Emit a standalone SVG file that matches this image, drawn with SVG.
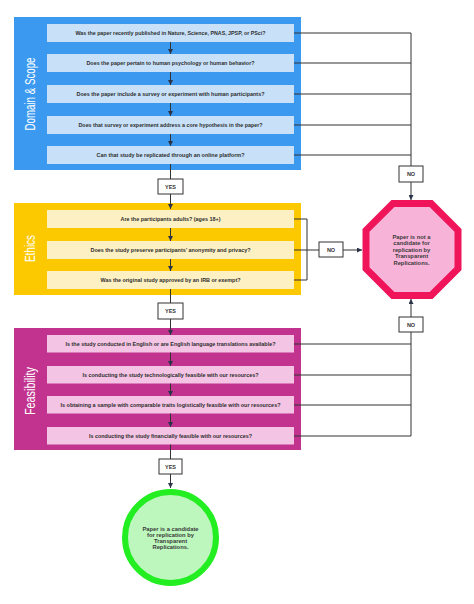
<svg xmlns="http://www.w3.org/2000/svg" width="474" height="604" viewBox="0 0 474 604">
<style>
.q{font-family:"Liberation Sans",Arial,sans-serif;font-weight:bold;font-size:5.6px;fill:#2e2e2e;text-anchor:middle}
.sec{font-family:"Liberation Sans",Arial,sans-serif;font-size:15px;fill:#ffffff;text-anchor:middle}
.lbl{font-family:"Liberation Sans",Arial,sans-serif;font-weight:bold;font-size:5.5px;fill:#333;text-anchor:middle}
.end{font-family:"Liberation Sans",Arial,sans-serif;font-weight:bold;font-size:5.8px;fill:#3a3a3a;text-anchor:middle}
.tag{fill:#ffffff;stroke:#333;stroke-width:1}
.ln{fill:none;stroke:#333;stroke-width:1}
.arr{fill:none;stroke:#333;stroke-width:1;marker-end:url(#ah)}
.bb{fill:#c8e1f8}
.yb{fill:#fdf0c2}
.mb{fill:#f3c4e3}
</style>
<defs>
<marker id="ah" markerUnits="userSpaceOnUse" markerWidth="5" markerHeight="5" viewBox="0 0 5 5" refX="5" refY="2.5" orient="auto">
<path d="M0,0 L5,2.5 L0,5 Z" fill="#2a3347"/>
</marker>
</defs>

<g id="panel-domain">
<rect x="14" y="17" width="287" height="153" fill="#3b9af0"/>
<text class="sec" transform="translate(35,94) rotate(-90)" textLength="73" lengthAdjust="spacingAndGlyphs">Domain &amp; Scope</text>
</g>
<g id="q1"><rect class="bb" x="47" y="24" width="247" height="18"/><text class="q" x="170.5" y="35" textLength="190" lengthAdjust="spacingAndGlyphs">Was the paper recently published in Nature, Science, PNAS, JPSP, or PSci?</text></g>
<g id="q2"><rect class="bb" x="47" y="54" width="247" height="18"/><text class="q" x="170.5" y="65" textLength="168" lengthAdjust="spacingAndGlyphs">Does the paper pertain to human psychology or human behavior?</text></g>
<g id="q3"><rect class="bb" x="47" y="85" width="247" height="18"/><text class="q" x="170.5" y="96" textLength="188" lengthAdjust="spacingAndGlyphs">Does the paper include a survey or experiment with human participants?</text></g>
<g id="q4"><rect class="bb" x="47" y="116" width="247" height="18"/><text class="q" x="170.5" y="127" textLength="184" lengthAdjust="spacingAndGlyphs">Does that survey or experiment address a core hypothesis in the paper?</text></g>
<g id="q5"><rect class="bb" x="47" y="146" width="247" height="18"/><text class="q" x="170.5" y="157" textLength="148" lengthAdjust="spacingAndGlyphs">Can that study be replicated through an online platform?</text></g>

<g id="panel-ethics">
<rect x="14" y="203" width="287" height="92" fill="#fcc800"/>
<text class="sec" transform="translate(35,248.5) rotate(-90)" textLength="27" lengthAdjust="spacingAndGlyphs">Ethics</text>
</g>
<g id="q6"><rect class="yb" x="47" y="210" width="247" height="18"/><text class="q" x="170.5" y="221" textLength="100" lengthAdjust="spacingAndGlyphs">Are the participants adults? (ages 18+)</text></g>
<g id="q7"><rect class="yb" x="47" y="241" width="247" height="18"/><text class="q" x="170.5" y="252" textLength="160" lengthAdjust="spacingAndGlyphs">Does the study preserve participants’ anonymity and privacy?</text></g>
<g id="q8"><rect class="yb" x="47" y="271" width="247" height="18"/><text class="q" x="170.5" y="282" textLength="140" lengthAdjust="spacingAndGlyphs">Was the original study approved by an IRB or exempt?</text></g>

<g id="panel-feasibility">
<rect x="14" y="328" width="287" height="122" fill="#c2338f"/>
<text class="sec" transform="translate(35,391) rotate(-90)" textLength="48" lengthAdjust="spacingAndGlyphs">Feasibility</text>
</g>
<g id="q9"><rect class="mb" x="47" y="335" width="247" height="17.5"/><text class="q" x="170.5" y="345.8" textLength="210" lengthAdjust="spacingAndGlyphs">Is the study conducted in English or are English language translations available?</text></g>
<g id="q10"><rect class="mb" x="47" y="366" width="247" height="17.5"/><text class="q" x="170.5" y="376.8" textLength="176" lengthAdjust="spacingAndGlyphs">Is conducting the study technologically feasible with our resources?</text></g>
<g id="q11"><rect class="mb" x="47" y="396" width="247" height="17.5"/><text class="q" x="170.5" y="406.8" textLength="220" lengthAdjust="spacingAndGlyphs">Is obtaining a sample with comparable traits logistically feasible with our resources?</text></g>
<g id="q12"><rect class="mb" x="47" y="427" width="247" height="17.5"/><text class="q" x="170.5" y="437.8" textLength="163" lengthAdjust="spacingAndGlyphs">Is conducting the study financially feasible with our resources?</text></g>

<g id="connectors">
<line class="arr" x1="170.5" y1="42" x2="170.5" y2="54"/>
<line class="arr" x1="170.5" y1="72" x2="170.5" y2="85"/>
<line class="arr" x1="170.5" y1="103" x2="170.5" y2="116"/>
<line class="arr" x1="170.5" y1="134" x2="170.5" y2="146"/>
<line class="ln" x1="170.5" y1="164" x2="170.5" y2="179"/>
<line class="arr" x1="170.5" y1="194" x2="170.5" y2="209"/>
<line class="arr" x1="170.5" y1="228" x2="170.5" y2="241"/>
<line class="arr" x1="170.5" y1="259" x2="170.5" y2="271"/>
<line class="ln" x1="170.5" y1="289" x2="170.5" y2="303"/>
<line class="arr" x1="170.5" y1="319" x2="170.5" y2="335"/>
<line class="arr" x1="170.5" y1="352.5" x2="170.5" y2="366"/>
<line class="arr" x1="170.5" y1="383.5" x2="170.5" y2="396"/>
<line class="arr" x1="170.5" y1="413.5" x2="170.5" y2="427"/>
<line class="ln" x1="170.5" y1="444.5" x2="170.5" y2="459"/>
<line class="arr" x1="170.5" y1="474" x2="170.5" y2="488"/>
<path class="ln" d="M294,33 H411 M294,63 H411 M294,94 H411 M294,125 H411 M294,155 H411 M411,33 V166"/>
<line class="arr" x1="411" y1="182" x2="411" y2="200"/>
<path class="ln" d="M294,219 H307 V280 H294 M294,250 H319"/>
<line class="arr" x1="343" y1="250" x2="362" y2="250"/>
<path class="ln" d="M294,344 H411 M294,375 H411 M294,405 H411 M294,436 H411 V332"/>
<line class="arr" x1="411" y1="317" x2="411" y2="299"/>
<g id="tag-yes1"><rect class="tag" x="158" y="179" width="25" height="15"/><text class="lbl" x="170.5" y="188.5">YES</text></g>
<g id="tag-yes2"><rect class="tag" x="158" y="303" width="25" height="16"/><text class="lbl" x="170.5" y="313">YES</text></g>
<g id="tag-yes3"><rect class="tag" x="159" y="459" width="23" height="15"/><text class="lbl" x="170.5" y="468.5">YES</text></g>
<g id="tag-no1"><rect class="tag" x="399" y="166" width="24" height="16"/><text class="lbl" x="411" y="176">NO</text></g>
<g id="tag-no2"><rect class="tag" x="319" y="242" width="24" height="15"/><text class="lbl" x="331" y="251.5">NO</text></g>
<g id="tag-no3"><rect class="tag" x="399" y="317" width="24" height="15"/><text class="lbl" x="411" y="326.5">NO</text></g>
</g>

<g id="not-candidate">
<path d="M392.9,203.5 H431.1 L458,230.4 V268.6 L431.1,295.5 H392.9 L366,268.6 V230.4 Z" fill="#f8b4d8" stroke="#f0145a" stroke-width="7" stroke-linejoin="miter"/>
<text class="end" x="411.5" y="239">Paper is not a</text>
<text class="end" x="411.5" y="245.4">candidate for</text>
<text class="end" x="411.5" y="251.8">replication by</text>
<text class="end" x="411.5" y="258.2">Transparent</text>
<text class="end" x="411.5" y="264.6">Replications.</text>
</g>

<g id="candidate">
<circle cx="170.5" cy="537.5" r="45.5" fill="#bdf7bd" stroke="#22ee22" stroke-width="6"/>
<text class="end" x="170.5" y="530.5">Paper is a candidate</text>
<text class="end" x="170.5" y="536.8">for replication by</text>
<text class="end" x="170.5" y="543.1">Transparent</text>
<text class="end" x="170.5" y="549.4">Replications.</text>
</g>
</svg>
